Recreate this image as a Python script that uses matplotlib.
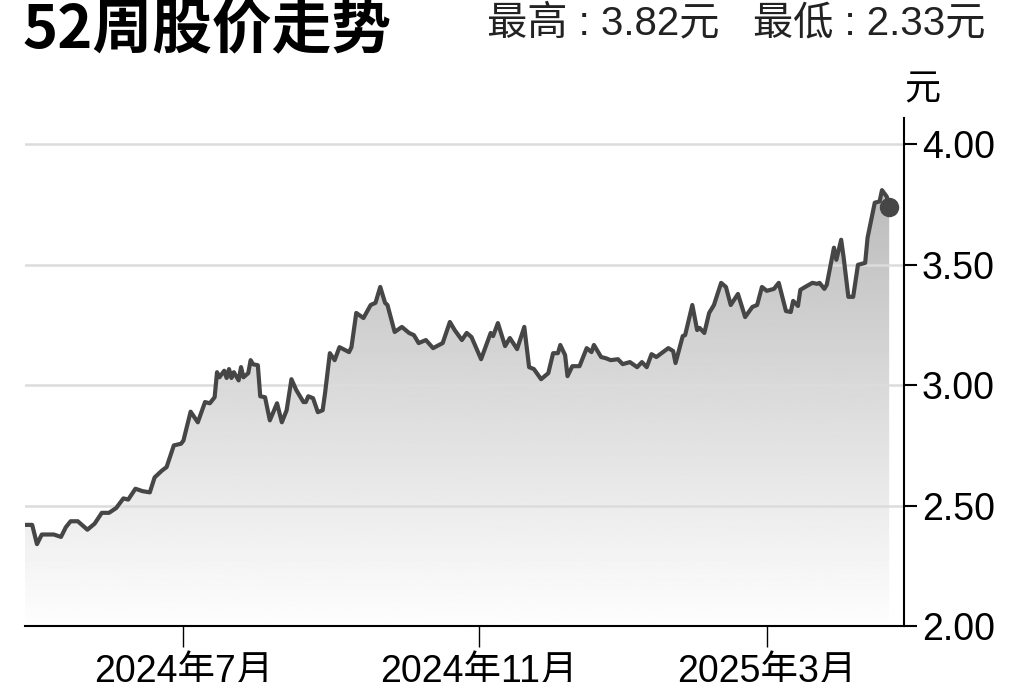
import matplotlib
matplotlib.use('Agg')
import matplotlib.pyplot as plt
import matplotlib.dates as mdates
import numpy as np
import pandas as pd

# 52-week closing prices
dates = [
    '2024-04-26', '2024-04-29', '2024-05-01', '2024-05-03', '2024-05-08', '2024-05-11',
    '2024-05-13', '2024-05-15', '2024-05-18', '2024-05-22', '2024-05-25', '2024-05-28',
    '2024-05-31', '2024-06-03', '2024-06-06', '2024-06-08', '2024-06-11', '2024-06-14',
    '2024-06-17', '2024-06-19', '2024-06-22', '2024-06-24', '2024-06-27', '2024-06-30',
    '2024-07-01', '2024-07-04', '2024-07-07', '2024-07-10', '2024-07-12', '2024-07-14',
    '2024-07-15', '2024-07-16', '2024-07-18', '2024-07-19', '2024-07-20', '2024-07-21',
    '2024-07-22', '2024-07-24', '2024-07-25', '2024-07-26', '2024-07-28', '2024-07-29',
    '2024-07-30', '2024-08-01', '2024-08-02', '2024-08-04', '2024-08-06', '2024-08-09',
    '2024-08-11', '2024-08-13', '2024-08-15', '2024-08-17', '2024-08-20', '2024-08-21',
    '2024-08-22', '2024-08-24', '2024-08-26', '2024-08-28', '2024-08-29', '2024-08-31',
    '2024-09-02', '2024-09-04', '2024-09-08', '2024-09-09', '2024-09-11', '2024-09-14',
    '2024-09-17', '2024-09-19', '2024-09-21', '2024-09-23', '2024-09-24', '2024-09-27',
    '2024-09-30', '2024-10-03', '2024-10-05', '2024-10-07', '2024-10-10', '2024-10-13',
    '2024-10-17', '2024-10-20', '2024-10-22', '2024-10-25', '2024-10-27', '2024-10-29',
    '2024-11-02', '2024-11-06', '2024-11-07', '2024-11-09', '2024-11-12', '2024-11-14',
    '2024-11-17', '2024-11-20', '2024-11-22', '2024-11-24', '2024-11-27', '2024-11-30',
    '2024-12-02', '2024-12-04', '2024-12-05', '2024-12-07', '2024-12-08', '2024-12-10',
    '2024-12-13', '2024-12-16', '2024-12-18', '2024-12-19', '2024-12-22', '2024-12-24',
    '2024-12-26', '2024-12-29', '2024-12-31', '2025-01-03', '2025-01-06', '2025-01-08',
    '2025-01-10', '2025-01-12', '2025-01-14', '2025-01-19', '2025-01-21', '2025-01-22',
    '2025-01-25', '2025-01-26', '2025-01-29', '2025-01-31', '2025-02-01', '2025-02-03',
    '2025-02-05', '2025-02-07', '2025-02-10', '2025-02-12', '2025-02-14', '2025-02-17',
    '2025-02-20', '2025-02-23', '2025-02-25', '2025-02-27', '2025-03-01', '2025-03-04',
    '2025-03-06', '2025-03-09', '2025-03-11', '2025-03-12', '2025-03-14', '2025-03-15',
    '2025-03-17', '2025-03-20', '2025-03-22', '2025-03-23', '2025-03-25', '2025-03-26',
    '2025-03-29', '2025-03-30', '2025-04-01', '2025-04-02', '2025-04-04', '2025-04-06',
    '2025-04-08', '2025-04-11', '2025-04-12', '2025-04-15', '2025-04-17', '2025-04-18',
    '2025-04-20', '2025-04-21',
]
prices = [
    2.42, 2.42, 2.34, 2.38, 2.38, 2.37,
    2.41, 2.435, 2.435, 2.40, 2.425, 2.47,
    2.47, 2.49, 2.53, 2.525, 2.57, 2.56,
    2.555, 2.617, 2.645, 2.66, 2.75, 2.757,
    2.77, 2.89, 2.846, 2.93, 2.925, 2.95,
    3.054, 3.033, 3.06, 3.03, 3.067, 3.03,
    3.054, 3.02, 3.075, 3.033, 3.05, 3.104,
    3.087, 3.083, 2.954, 2.95, 2.854, 2.925,
    2.846, 2.896, 3.025, 2.98, 2.93, 2.93,
    2.954, 2.946, 2.888, 2.896, 2.967, 3.133,
    3.104, 3.158, 3.1375, 3.158, 3.30, 3.279,
    3.333, 3.342, 3.408, 3.342, 3.333, 3.221,
    3.242, 3.217, 3.208, 3.175, 3.1875, 3.154,
    3.175, 3.2625, 3.229, 3.1875, 3.217, 3.20,
    3.108, 3.217, 3.204, 3.258, 3.1625, 3.196,
    3.15, 3.242, 3.075, 3.067, 3.025, 3.05,
    3.133, 3.133, 3.167, 3.125, 3.0375, 3.079,
    3.079, 3.154, 3.1375, 3.167, 3.117, 3.112,
    3.104, 3.108, 3.0875, 3.096, 3.075, 3.096,
    3.075, 3.129, 3.117, 3.154, 3.142, 3.092,
    3.204, 3.208, 3.333, 3.229, 3.238, 3.217,
    3.30, 3.333, 3.425, 3.408, 3.333, 3.379,
    3.283, 3.325, 3.333, 3.408, 3.392, 3.40,
    3.425, 3.308, 3.304, 3.35, 3.329, 3.396,
    3.408, 3.425, 3.421, 3.425, 3.40, 3.417,
    3.571, 3.521, 3.604, 3.533, 3.367, 3.367,
    3.50, 3.508, 3.6125, 3.758, 3.763, 3.81,
    3.783, 3.742,
]

tick_dates = ['2024-07-01', '2024-11-01', '2025-03-01']
tick_labels = ['2024年7月', '2024年11月', '2025年3月']
y_ticks = [2.0, 2.5, 3.0, 3.5, 4.0]

x = mdates.date2num(pd.to_datetime(dates))
x_lo = mdates.date2num(pd.Timestamp('2024-04-26'))
x_hi = mdates.date2num(pd.Timestamp('2025-04-27'))
y_lo, y_hi = 2.0, 4.11

fonts = ['Liberation Sans', 'Noto Sans CJK SC']
line_col = '#464646'

fig = plt.figure(figsize=(10.24, 6.82), dpi=100)
ax = fig.add_axes([0.0244, 0.0821, 0.858, 0.745])

# grey gradient under the line
fill = ax.fill_between(x, prices, y_lo, facecolor='none', edgecolor='none')
grad = np.linspace(0.73, 0.995, 256).reshape(-1, 1)
img = ax.imshow(grad, cmap='gray', vmin=0, vmax=1, aspect='auto',
                extent=[x_lo, x_hi, y_lo, 3.85], origin='upper', zorder=1)
img.set_clip_path(fill.get_paths()[0], transform=ax.transData)

for yv in y_ticks[1:]:
    ax.axhline(yv, color='#dcdcdc', lw=1.8, zorder=2)

ax.plot(x, prices, color=line_col, lw=3.0, zorder=3,
        solid_joinstyle='round', solid_capstyle='round')
ax.plot(x[-1], prices[-1], 'o', color=line_col, ms=13, zorder=4)

ax.set_xlim(x_lo, x_hi)
ax.set_ylim(y_lo, y_hi)

for s in ['top', 'left']:
    ax.spines[s].set_visible(False)
ax.spines['right'].set_linewidth(1.5)
ax.spines['bottom'].set_linewidth(1.5)

ax.yaxis.tick_right()
ax.set_yticks(y_ticks)
ax.set_yticklabels(['%.2f' % v for v in y_ticks], family=fonts, fontsize=27)
ax.tick_params(axis='y', direction='out', length=9, width=1.5, pad=4)

ax.set_xticks(mdates.date2num(pd.to_datetime(tick_dates)))
ax.set_xticklabels(tick_labels, family=fonts, fontsize=27)
ax.tick_params(axis='x', direction='out', length=15, width=1.0, pad=5)

fig.text(0.022, 1.0, '52周股价走势', fontsize=43, fontweight=900,
         family=['Noto Sans CJK SC'], va='top', ha='left')
fig.text(0.962, 0.993, '最高 : 3.82元   最低 : 2.33元', fontsize=29,
         family=fonts, va='top', ha='right', color='#222222')
fig.text(0.901, 0.868, '元', fontsize=26, family=fonts, va='center', ha='center')

fig.savefig('out.png', dpi=100)
